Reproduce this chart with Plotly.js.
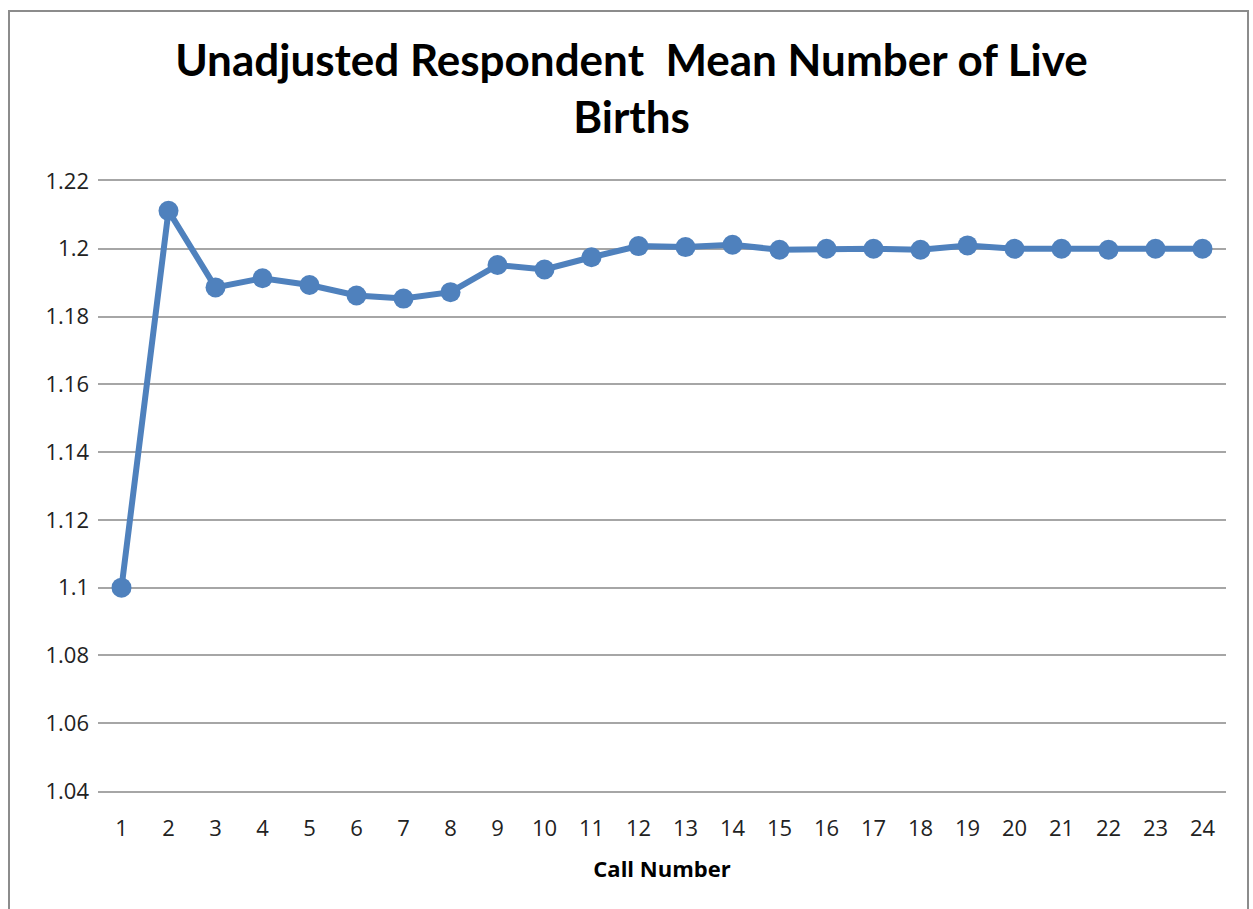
<!DOCTYPE html>
<html>
<head>
<meta charset="utf-8">
<script src="https://cdn.plot.ly/plotly-3.0.1.min.js"></script>
<style>
  body { margin: 0; background: #fff; }
  #chart { width: 1253px; height: 909px; }
  #frame { position: absolute; left: 8px; top: 10px; width: 1237px; height: 905px;
           border: 2px solid #8c8c8c; pointer-events: none; }
</style>
</head>
<body>
<div id="chart"></div>
<div id="frame"></div>
<script>
// call numbers and mean live births
const callNumbers = [1, 2, 3, 4, 5, 6, 7, 8, 9, 10, 11, 12, 13, 14, 15, 16, 17, 18, 19, 20, 21, 22, 23, 24];
const meanBirths = [1.1, 1.2112, 1.1886, 1.1913, 1.1893, 1.1862, 1.1853, 1.1872, 1.1952, 1.1939, 1.1975, 1.2008,
                    1.2005, 1.2012, 1.1997, 1.2, 1.2, 1.1997, 1.201, 1.2, 1.2, 1.1997, 1.2, 1.2];
const yTicks = [1.04, 1.06, 1.08, 1.1, 1.12, 1.14, 1.16, 1.18, 1.2, 1.22];

const draw = () => {
    let data = [{
        x: callNumbers.map(String),
        y: meanBirths,
        mode: 'lines+markers',
        type: 'scatter',
        line: {color: '#4f81bd', width: 6},
        marker: {color: '#4f81bd', size: 20}
    }];

    let layout = {
        width: 1253,
        height: 909,
        margin: {l: 97.5, r: 26.5, t: 181, b: 118},
        paper_bgcolor: '#fff',
        plot_bgcolor: '#fff',
        showlegend: false,
        font: {family: 'Lato, sans-serif', color: '#222'},
        title: {
            text: 'Unadjusted Respondent  Mean Number of Live<br>Births',
            font: {size: 44, weight: 'bold', color: '#000'},
            xref: 'container', x: 0.504, xanchor: 'center',
            yref: 'container', y: 1 - 76 / 909, yanchor: 'top'
        },
        xaxis: {
            type: 'category',
            range: [-0.5, 23.5],
            showgrid: false,
            zeroline: false,
            showline: true,
            mirror: true,
            linecolor: '#a6a6a6',
            linewidth: 1.5,
            ticks: '',
            ticklabelstandoff: 17,
            tickfont: {size: 22, family: 'Open Sans, sans-serif', color: '#222'},
            title: {text: 'Call Number', font: {size: 22, weight: 'bold', family: 'Open Sans, sans-serif', color: '#000'}, standoff: 20}
        },
        yaxis: {
            range: [1.04, 1.22],
            tickvals: yTicks,
            ticktext: yTicks.map(v => String(+v.toFixed(2))),
            showgrid: true,
            gridcolor: '#a6a6a6',
            gridwidth: 1.5,
            zeroline: false,
            ticks: '',
            ticklabelstandoff: 8,
            tickfont: {size: 22, family: 'Open Sans, sans-serif', color: '#222'}
        }
    };

    Plotly.newPlot('chart', data, layout, {displayModeBar: false});
}

draw();
</script>
</body>
</html>
